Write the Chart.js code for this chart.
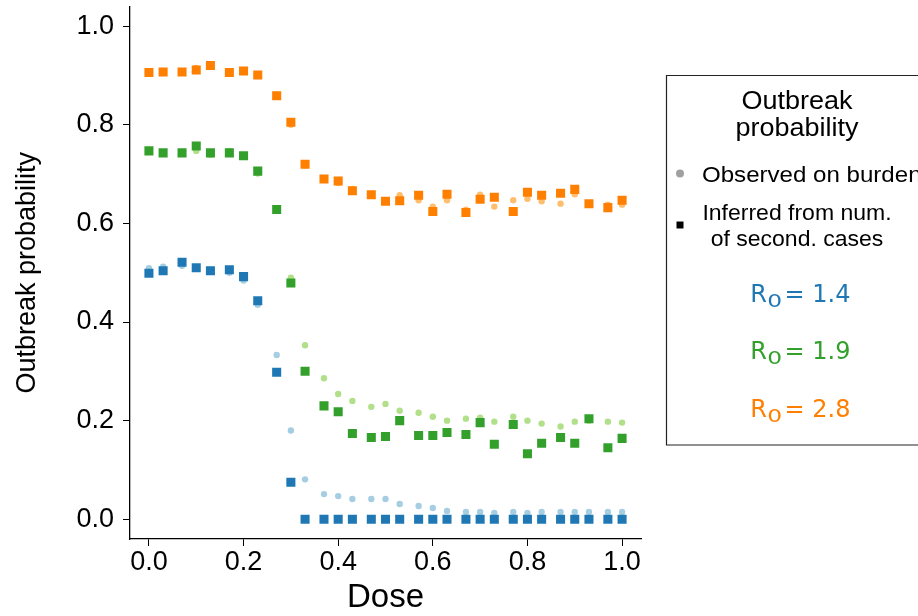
<!DOCTYPE html>
<html>
<head>
<meta charset="utf-8">
<script src="https://cdn.jsdelivr.net/npm/chart.js@4/dist/chart.umd.min.js"></script>
<style>
html,body{margin:0;padding:0;background:#fff;}
#wrap{width:918px;height:616px;position:relative;}
</style>
</head>
<body>
<div id="wrap"><canvas id="c" width="918" height="616"></canvas></div>
<script>
// ---- data ----
const doses = [0,0.03,0.07,0.1,0.13,0.17,0.2,0.23,0.27,0.3,0.33,0.37,0.4,0.43,0.47,0.5,0.53,0.57,0.6,0.63,0.67,0.7,0.73,0.77,0.8,0.83,0.87,0.9,0.93,0.97,1.0];

const obs14 = [0.509,0.512,0.514,0.510,0.506,0.500,0.484,0.435,0.333,0.180,0.081,0.051,0.047,0.041,0.041,0.041,0.031,0.027,0.023,0.017,0.015,0.015,0.013,0.015,0.013,0.015,0.015,0.015,0.015,0.015,0.015];
const inf14 = [0.499,0.504,0.521,0.510,0.504,0.506,0.492,0.443,0.298,0.075,0,0,0,0,0,0,0,0,0,0,0,0,0,0,0,0,0,0,0,0,0];

const obs19 = [0.747,0.743,0.743,0.747,0.739,0.747,0.737,0.701,0.628,0.490,0.353,0.286,0.254,0.240,0.228,0.234,0.220,0.216,0.208,0.200,0.204,0.206,0.198,0.208,0.200,0.194,0.188,0.198,0.200,0.198,0.196];
const inf19 = [0.747,0.743,0.743,0.757,0.743,0.743,0.737,0.706,0.628,0.479,0.300,0.230,0.218,0.174,0.166,0.168,0.200,0.170,0.170,0.176,0.172,0.196,0.152,0.192,0.133,0.154,0.166,0.154,0.204,0.145,0.164];

const obs28 = [0.905,0.906,0.907,0.915,0.918,0.907,0.908,0.902,0.861,0.800,0.718,0.690,0.682,0.670,0.658,0.646,0.657,0.647,0.634,0.647,0.628,0.658,0.634,0.647,0.650,0.645,0.640,0.659,0.640,0.638,0.638];
const inf28 = [0.906,0.907,0.907,0.911,0.920,0.906,0.909,0.901,0.859,0.805,0.720,0.690,0.686,0.666,0.658,0.645,0.646,0.657,0.624,0.659,0.622,0.649,0.653,0.624,0.663,0.657,0.661,0.669,0.640,0.632,0.647];

const xTicks = [0,0.2,0.4,0.6,0.8,1.0];
const yTicks = [0,0.2,0.4,0.6,0.8,1.0];
const r0Labels = ['1.4','1.9','2.8'];
const legendTitle = ['Outbreak','probability'];
const legendObserved = 'Observed on burden';
const legendInferred = ['Inferred from num.','of second. cases'];

const darkCols = ['#1f78b4','#33a02c','#ff7f00'];
const lightCols = ['#a6cee3','#b2df8a','#fdbf6f'];

function pts(ys){ return doses.map((d,i)=>({x:d,y:ys[i]})); }

const obsSets = [obs14,obs19,obs28];
const infSets = [inf14,inf19,inf28];
const datasets = [];
infSets.forEach((s,i)=>datasets.push({label:'inf'+r0Labels[i],data:pts(s),pointStyle:'rect',pointRadius:6.4,pointHoverRadius:6.4,pointBorderWidth:0,backgroundColor:darkCols[i],borderColor:darkCols[i],order:0}));
obsSets.forEach((s,i)=>datasets.push({label:'obs'+r0Labels[i],data:pts(s),pointStyle:'circle',pointRadius:3.2,pointHoverRadius:3.2,pointBorderWidth:0,backgroundColor:lightCols[i],borderColor:lightCols[i],order:1}));

const SANS = "'Liberation Sans', Arial, sans-serif";

function stretchText(ctx, text, x, y, font, align, sx){
  ctx.save();
  ctx.font = font;
  const w = ctx.measureText(text).width * sx;
  let left = x;
  if (align === 'center') left = x - w/2;
  else if (align === 'right') left = x - w;
  ctx.translate(left, y);
  ctx.scale(sx, 1);
  ctx.textAlign = 'left';
  ctx.textBaseline = 'alphabetic';
  ctx.fillText(text, 0, 0);
  ctx.restore();
}

const legendPlugin = {
  id:'customLegend',
  afterDraw(chart){
    const ctx = chart.ctx;
    ctx.save();
    // box
    ctx.strokeStyle = '#222';
    ctx.lineWidth = 1.2;
    ctx.fillStyle = '#fff';
    ctx.beginPath();
    ctx.rect(666.5, 75.5, 400, 369.5);
    ctx.fill();
    ctx.stroke();
    const cx = 797;
    const SX = 1.08;
    ctx.fillStyle = '#000';
    stretchText(ctx, legendTitle[0], cx, 108.5, '25px ' + SANS, 'center', SX);
    stretchText(ctx, legendTitle[1], cx, 136, '25px ' + SANS, 'center', SX);
    // observed marker
    ctx.fillStyle = '#a0a0a0';
    ctx.beginPath();
    ctx.arc(680, 173.5, 4, 0, Math.PI*2);
    ctx.fill();
    ctx.fillStyle = '#000';
    stretchText(ctx, legendObserved, 702, 181.7, '22.3px ' + SANS, 'left', SX);
    // inferred marker
    ctx.fillRect(676.5, 221.5, 7, 7);
    stretchText(ctx, legendInferred[0], cx, 220, '21.3px ' + SANS, 'center', SX);
    stretchText(ctx, legendInferred[1], cx, 246, '21.3px ' + SANS, 'center', SX);
    // R0 labels
    const bases = [302, 359.3, 416.7];
    r0Labels.forEach((lab,i)=>{
      ctx.fillStyle = darkCols[i];
      ctx.textAlign = 'left';
      ctx.textBaseline = 'alphabetic';
      ctx.font = '24px "DejaVu Sans"';
      ctx.fillText('R', 750.3, bases[i]);
      stretchText(ctx, '0', 767.2, bases[i] + 5, '18px "DejaVu Sans"', 'left', 1.3);
      ctx.font = '24px "DejaVu Sans"';
      ctx.fillText('= ' + lab, 784.5, bases[i]);
    });
    ctx.restore();
  }
};

new Chart(document.getElementById('c'), {
  type:'scatter',
  data:{datasets},
  options:{
    responsive:false,
    devicePixelRatio:1,
    animation:false,
    events:[],
    layout:{padding:{left:0,top:3,right:277,bottom:0}},
    plugins:{legend:{display:false},tooltip:{enabled:false}},
    scales:{
      x:{
        type:'linear',
        min:-0.04, max:1.04,
        afterFit(s){ s.height = 77; s.paddingLeft = 0; s.paddingRight = 0; },
        afterBuildTicks(s){ s.ticks = xTicks.map(v=>({value:v})); },
        grid:{display:true,drawOnChartArea:false,drawTicks:true,tickLength:7,color:'#000',tickColor:'#000',tickWidth:1},
        border:{display:true,color:'#000',width:1.3},
        ticks:{color:'#000',font:{family:SANS,size:27,lineHeight:1},padding:3,maxRotation:0,autoSkip:false,callback:v=>v.toFixed(1)},
        title:{display:true,text:'Dose',color:'#000',font:{family:SANS,size:33,lineHeight:1.1},padding:{top:0,bottom:0}}
      },
      y:{
        type:'linear',
        min:-0.04, max:1.04,
        afterFit(s){ s.width = 130; s.paddingTop = 0; s.paddingBottom = 0; },
        afterBuildTicks(s){ s.ticks = yTicks.map(v=>({value:v})); },
        grid:{display:true,drawOnChartArea:false,drawTicks:true,tickLength:7,color:'#000',tickColor:'#000',tickWidth:1},
        border:{display:true,color:'#000',width:1.3},
        ticks:{color:'#000',font:{family:SANS,size:27,lineHeight:1},padding:9,autoSkip:false,callback:v=>v.toFixed(1)},
        title:{display:true,text:'Outbreak probability',color:'#000',font:{family:SANS,size:27,lineHeight:1.2},padding:{top:11,bottom:0}}
      }
    }
  },
  plugins:[legendPlugin]
});
</script>
</body>
</html>
